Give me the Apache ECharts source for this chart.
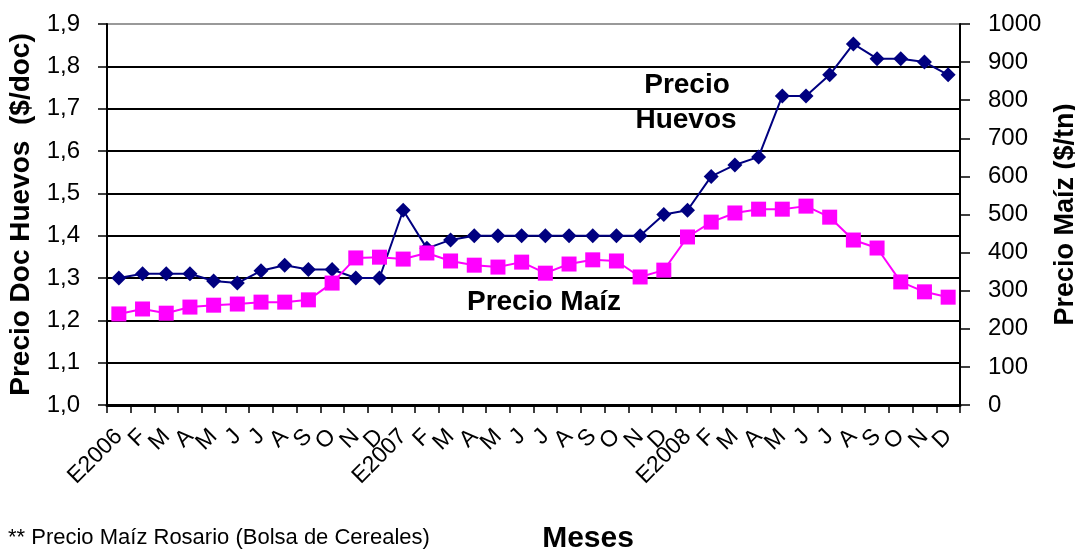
<!DOCTYPE html>
<html>
<head>
<meta charset="utf-8">
<script src="https://cdn.jsdelivr.net/npm/echarts@6/dist/echarts.min.js"></script>
<style>
html,body{margin:0;padding:0;background:#fff;}
#c{width:1075px;height:550px;}
</style>
</head>
<body>
<div id="c"></div>
<script>
var months = ['E2006','F','M','A','M','J','J','A','S','O','N','D',
              'E2007','F','M','A','M','J','J','A','S','O','N','D',
              'E2008','F','M','A','M','J','J','A','S','O','N','D'];
var precioHuevos = [1.30,1.31,1.31,1.31,1.293,1.288,1.317,1.33,1.32,1.32,1.30,1.30,
                    1.46,1.37,1.39,1.40,1.40,1.40,1.40,1.40,1.40,1.40,1.40,1.45,
                    1.46,1.54,1.567,1.586,1.73,1.73,1.78,1.853,1.818,1.818,1.81,1.78];
var precioMaiz = [239,252,241,257,262,265,270,270,276,320,386,388,
                  383,399,378,367,362,375,346,370,381,378,336,354,
                  441,480,504,514,514,522,493,433,412,323,297,283];

var chart = echarts.init(document.getElementById('c'));
var font = 'Liberation Sans, Arial, sans-serif';
chart.setOption({
  animation:false,
  backgroundColor:'#fff',
  textStyle:{fontFamily:font,color:'#000'},
  grid:{left:107,right:115,top:24,bottom:145,containLabel:false,outerBoundsMode:'none'},
  xAxis:{
    type:'category',
    data:months,
    boundaryGap:true,
    axisLine:{lineStyle:{color:'#000',width:3}},
    axisTick:{show:true,interval:0,length:8,lineStyle:{color:'#000',width:1.5}},
    axisLabel:{interval:0,rotate:45,fontSize:23,color:'#000',fontFamily:font,margin:28}
  },
  yAxis:[{
    type:'value',min:1,max:1.9,interval:0.1,
    name:'Precio Doc Huevos  ($/doc)',
    nameLocation:'middle',nameGap:67,nameRotate:90,
    nameTextStyle:{fontSize:28,fontWeight:'bold',color:'#000',fontFamily:font},
    axisLine:{show:true,lineStyle:{color:'#000',width:2}},
    axisTick:{show:true,length:9,lineStyle:{color:'#000',width:1.5}},
    axisLabel:{fontSize:24,color:'#000',fontFamily:font,margin:27,
      formatter:function(v){return v.toFixed(1).replace('.',',');}},
    splitLine:{show:true,lineStyle:{color:['#000','#000','#000','#000','#000','#000','#000','#000','#000','#999'],width:2}}
  },{
    type:'value',min:0,max:1000,interval:100,position:'right',
    name:'Precio Maíz ($/tn)',
    nameLocation:'middle',nameGap:86,nameRotate:90,
    nameTextStyle:{fontSize:27,fontWeight:'bold',color:'#000',fontFamily:font},
    axisLine:{show:true,lineStyle:{color:'#000',width:2}},
    axisTick:{show:true,length:10,inside:false,lineStyle:{color:'#000',width:1.5}},
    axisLabel:{fontSize:24,color:'#000',fontFamily:font,margin:28,
      formatter:function(v){return String(v);}},
    splitLine:{show:false}
  }],
  series:[{
    name:'Precio Huevos',type:'line',yAxisIndex:0,data:precioHuevos,
    symbol:'diamond',symbolSize:15,
    lineStyle:{color:'#000080',width:2},
    itemStyle:{color:'#000080'},z:3
  },{
    name:'Precio Maíz',type:'line',yAxisIndex:1,data:precioMaiz,
    symbol:'rect',symbolSize:15,
    lineStyle:{color:'#FF00FF',width:2},
    itemStyle:{color:'#FF00FF'},z:4
  }],
  graphic:[
    {type:'text',x:687,y:85,style:{text:'Precio',font:'bold 28px '+font,fill:'#000',textAlign:'center',textVerticalAlign:'middle'}},
    {type:'text',x:686,y:120,style:{text:'Huevos',font:'bold 28px '+font,fill:'#000',textAlign:'center',textVerticalAlign:'middle'}},
    {type:'text',x:544,y:302,style:{text:'Precio Maíz',font:'bold 28px '+font,fill:'#000',textAlign:'center',textVerticalAlign:'middle'}},
    {type:'text',x:588,y:539,style:{text:'Meses',font:'bold 30px '+font,fill:'#000',textAlign:'center',textVerticalAlign:'middle'}},
    {type:'text',x:8,y:538,style:{text:'** Precio Maíz Rosario (Bolsa de Cereales)',font:'22px '+font,fill:'#000',textAlign:'left',textVerticalAlign:'middle'}}
  ]
});
</script>
</body>
</html>
